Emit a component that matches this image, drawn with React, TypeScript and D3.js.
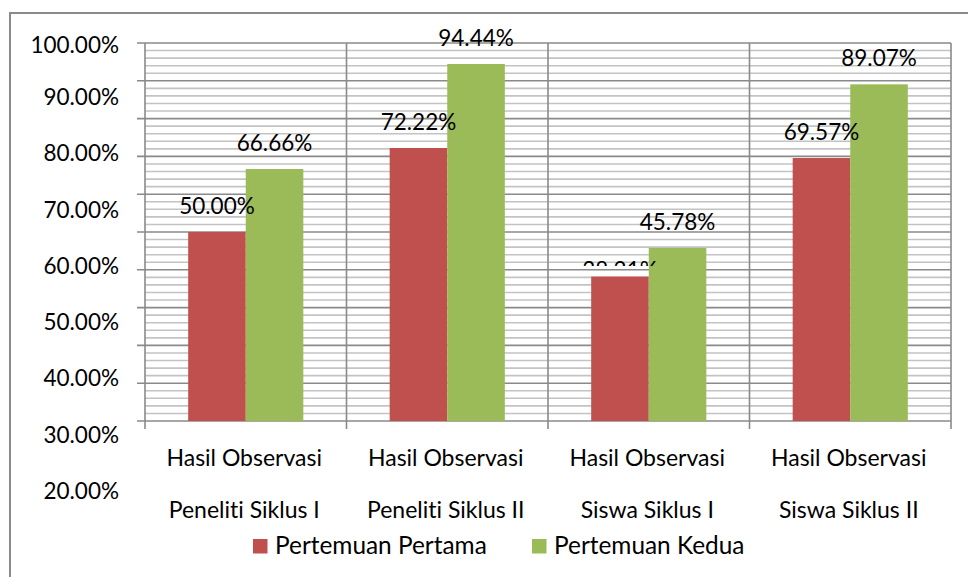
import React from "react";
import * as d3 from "d3";

const categories = [
  "Hasil Observasi\nPeneliti Siklus I",
  "Hasil Observasi\nPeneliti Siklus II",
  "Hasil Observasi\nSiswa Siklus I",
  "Hasil Observasi\nSiswa Siklus II",
];
const seriesNames = ["Pertemuan Pertama", "Pertemuan Kedua"];
const pertemuanPertama = [0.5, 0.7222, 0.3821, 0.6957];
const pertemuanKedua = [0.6666, 0.9444, 0.4578, 0.8907];
const seriesColors = ["#C0504D", "#9BBB59"];
const yTickLabels = [1.0, 0.9, 0.8, 0.7, 0.6, 0.5, 0.4, 0.3, 0.2];

const W = 968;
const H = 577;
const FONT = "Lato, 'Liberation Sans', sans-serif";

export default function App() {
  const left = 145, right = 951, top = 43, bottom = 421;
  const y = d3.scaleLinear().domain([0, 1]).range([bottom, top]);
  const x = d3.scaleBand<string>().domain(categories).range([left, right]).padding(0);
  const inner = d3
    .scaleBand<number>()
    .domain([0, 1])
    .range([0, x.bandwidth()])
    .paddingInner(0)
    .paddingOuter(0.75);
  // tick label placement (labels are spread wider than gridlines in the reference)
  const labelY = d3.scaleLinear().domain([0.2, 0.9]).range([491, 97]);

  const majors = d3.range(0, 11).map((i) => i / 10);
  const minors = d3.range(0, 51).map((i) => i / 50).filter((_, i) => i % 5 !== 0);
  const data = [pertemuanPertama, pertemuanKedua];
  const fmt = d3.format(".2%");

  const hiddenIdx = { s: 0, c: 2 };
  const txtStyle = { fontVariantLigatures: "none" as const };

  return (
    <svg
      width={W}
      height={H}
      style={{ position: "absolute", left: 0, top: 0, background: "#fff" }}
      fontFamily={FONT}
    >
      <defs>
        <clipPath id="clipLow">
          <rect x={0} y={0} width={W} height={266} />
        </clipPath>
      </defs>
      <rect x={10} y={13} width={1000} height={700} fill="#fff" stroke="#8a8a8a" strokeWidth={2} />

      {/* minor gridlines */}
      {minors.map((v, i) => (
        <line key={"mi" + i} x1={left} x2={right} y1={y(v)} y2={y(v)} stroke="#c3c3c3" strokeWidth={1.6} />
      ))}
      {/* major gridlines with ticks */}
      {majors.map((v, i) => (
        <line key={"ma" + i} x1={left - 8} x2={right} y1={y(v)} y2={y(v)} stroke="#8a8a8a" strokeWidth={1.6} />
      ))}
      {/* vertical lines */}
      {[left, ...categories.map((c) => (x(c) as number) + x.bandwidth())].map((xv, i) => (
        <line key={"v" + i} x1={xv} x2={xv} y1={top} y2={bottom + 8} stroke="#8a8a8a" strokeWidth={1.6} />
      ))}

      {/* bars */}
      {categories.map((c, ci) =>
        data.map((s, si) => (
          <rect
            key={c + si}
            x={(x(c) as number) + (inner(si) as number)}
            y={y(s[ci])}
            width={inner.bandwidth()}
            height={bottom - y(s[ci])}
            fill={seriesColors[si]}
          />
        ))
      )}

      {/* data labels */}
      {categories.map((c, ci) =>
        data.map((s, si) => {
          const cx = (x(c) as number) + (inner(si) as number) + inner.bandwidth() / 2;
          const hidden = si === hiddenIdx.s && ci === hiddenIdx.c;
          const cy = hidden ? y(s[ci]) - 7 : y(s[ci]) - 26;
          return (
            <text
              key={"l" + c + si}
              x={cx}
              y={cy + 8}
              textAnchor="middle"
              fontSize={22.5}
              fill="#000"
              style={txtStyle}
              clipPath={hidden ? "url(#clipLow)" : undefined}
            >
              {fmt(s[ci])}
            </text>
          );
        })
      )}

      {/* y tick labels */}
      {yTickLabels.map((v, i) => (
        <text
          key={"yt" + i}
          x={119}
          y={Math.max(labelY(v), 44.5) + 8}
          textAnchor="end"
          fontSize={22.5}
          fill="#000"
          style={txtStyle}
        >
          {fmt(v)}
        </text>
      ))}

      {/* category labels */}
      {categories.map((c) => {
        const cx = (x(c) as number) + x.bandwidth() / 2 - 1.5;
        const lines = c.split("\n");
        return (
          <g key={"cat" + c}>
            <text x={cx} y={466} textAnchor="middle" fontSize={23} fill="#000" style={txtStyle}>
              {lines[0]}
            </text>
            <text x={cx} y={518} textAnchor="middle" fontSize={23} fill="#000" style={txtStyle}>
              {lines[1]}
            </text>
          </g>
        );
      })}

      {/* legend */}
      {seriesNames.map((n, i) => {
        const lx = i === 0 ? 253 : 532;
        return (
          <g key={"lg" + i}>
            <rect x={lx} y={539} width={14.5} height={14.5} fill={seriesColors[i]} />
            <text x={lx + 22} y={554} fontSize={24.4} fill="#000" style={txtStyle}>
              {n}
            </text>
          </g>
        );
      })}
    </svg>
  );
}
